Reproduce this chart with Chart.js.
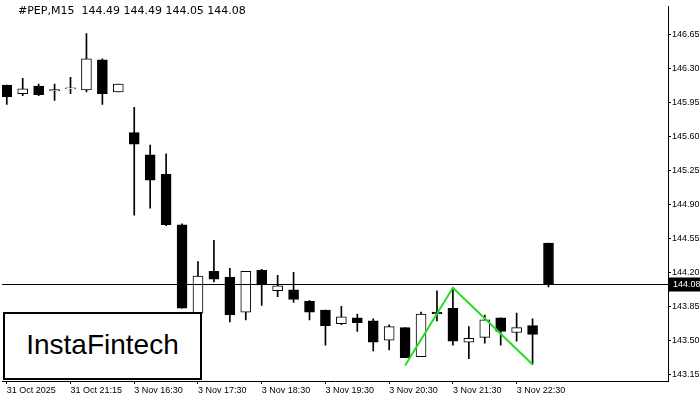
<!DOCTYPE html>
<html>
<head>
<meta charset="utf-8">
<script src="https://cdn.jsdelivr.net/npm/chart.js@4.4.1/dist/chart.umd.min.js"></script>
<style>
  body { margin: 0; background: #fff; }
  #wrap { position: relative; width: 700px; height: 400px; }
  #title { position: absolute; left: 18px; top: 4px; font: 11px "DejaVu Sans", sans-serif; color: #000; }
  #logo { position: absolute; left: 3px; top: 312px; width: 195px; height: 64px; border: 2px solid #000; background: #fff;
          font: 28px "Liberation Sans", Arial, sans-serif; line-height: 62px; text-align: center; color: #000; }
</style>
</head>
<body>
<div id="wrap">
  <canvas id="chart" width="700" height="400"></canvas>
  <div id="title">#PEP,M15&nbsp; 144.49 144.49 144.05 144.08</div>
  <div id="logo">InstaFintech</div>
</div>
<script>
const opens  = [146.13,146.04,146.12,146.07,146.09,146.08,146.39,146.06,145.64,145.41,145.21,144.69,143.78,144.21,144.15,143.79,144.22,144.01,144.02,143.90,143.81,143.67,143.73,143.70,143.50,143.63,143.33,143.79,143.83,143.48,143.53,143.73,143.58,143.65,144.50];
const highs  = [146.13,146.20,146.14,146.14,146.21,146.66,146.40,146.14,145.90,145.51,145.42,144.70,144.31,144.53,144.24,144.21,144.23,144.17,144.20,143.91,143.81,143.85,143.77,143.72,143.66,143.63,143.79,144.01,144.04,143.64,143.76,143.73,143.78,143.72,144.50];
const lows   = [145.93,146.02,146.02,145.97,146.04,146.06,145.93,146.06,144.79,144.86,144.68,143.83,143.77,144.10,143.69,143.71,143.86,143.95,143.89,143.71,143.45,143.66,143.59,143.39,143.40,143.32,143.33,143.70,143.45,143.31,143.47,143.45,143.49,143.25,144.05];
const closes = [146.01,146.09,146.03,146.08,146.09,146.40,146.04,146.14,145.52,145.15,144.69,143.83,144.16,144.13,143.76,144.21,144.07,144.06,143.92,143.79,143.65,143.74,143.68,143.48,143.64,143.32,143.77,143.77,143.49,143.52,143.71,143.59,143.63,143.56,144.08];
const timeLabels = {0: '31 Oct 2025', 4: '31 Oct 21:15', 8: '3 Nov 16:30', 12: '3 Nov 17:30', 16: '3 Nov 18:30',
                    20: '3 Nov 19:30', 24: '3 Nov 20:30', 28: '3 Nov 21:30', 32: '3 Nov 22:30'};
const priceTicks = [143.15,143.50,143.85,144.20,144.55,144.90,145.25,145.60,145.95,146.30,146.65];
const patternX = [25, 28, 33];
const patternY = [143.24, 144.04, 143.25];
const lastPrice = 144.08;

const wicks = opens.map((o, i) => ({x: i, y: [lows[i], highs[i]]}));
const bodies = opens.map((o, i) => {
  let lo = Math.min(o, closes[i]), hi = Math.max(o, closes[i]);
  if (hi - lo < 0.012) hi = lo + 0.012;
  return {x: i, y: [lo, hi]};
});
const bodyColors = opens.map((o, i) => closes[i] < o ? '#000' : '#fff');

const priceLine = {
  id: 'priceLine',
  afterDatasetsDraw(chart) {
    const {ctx, chartArea, scales} = chart;
    const y = Math.round(scales.y.getPixelForValue(lastPrice)) + 0.5;
    ctx.save();
    ctx.strokeStyle = '#000';
    ctx.lineWidth = 1;
    ctx.beginPath();
    ctx.moveTo(chartArea.left, y);
    ctx.lineTo(chartArea.right, y);
    ctx.stroke();
    ctx.fillStyle = '#000';
    ctx.fillRect(chartArea.right, y - 7, 700 - chartArea.right, 14);
    ctx.fillStyle = '#fff';
    ctx.font = '9px "Liberation Sans", sans-serif';
    ctx.textBaseline = 'middle';
    ctx.fillText(lastPrice.toFixed(2), chartArea.right + 5, y);
    ctx.restore();
  }
};

new Chart(document.getElementById('chart'), {
  data: {
    datasets: [
      {type: 'bar', data: wicks, backgroundColor: '#000', barThickness: 1, grouped: false, order: 3},
      {type: 'bar', data: bodies, backgroundColor: bodyColors, borderColor: '#000', borderWidth: 1,
       borderSkipped: false, barThickness: 10, grouped: false, order: 2},
      {type: 'line', data: patternX.map((x, i) => ({x: x, y: patternY[i]})), borderColor: '#22dd22',
       borderWidth: 2, pointRadius: 0, order: 1}
    ]
  },
  options: {
    responsive: false,
    animation: false,
    layout: {padding: {left: 2, top: 0, right: 0, bottom: 0}},
    plugins: {legend: {display: false}, tooltip: {enabled: false}},
    scales: {
      x: {
        type: 'linear', min: -0.3, max: 41.5, offset: false,
        afterBuildTicks: axis => { axis.ticks = Object.keys(timeLabels).map(k => ({value: +k})); },
        afterFit: axis => { axis.height = 19; },
        ticks: {callback: v => timeLabels[v] || '', color: '#000', font: {size: 9, family: 'Liberation Sans'},
                maxRotation: 0, align: 'start', autoSkip: false, padding: 1},
        grid: {drawOnChartArea: false, tickLength: 3, color: '#000', offset: false},
        border: {color: '#000'}
      },
      y: {
        position: 'right', min: 143.08, max: 146.94,
        afterBuildTicks: axis => { axis.ticks = priceTicks.map(v => ({value: v})); },
        afterFit: axis => { axis.width = 32; },
        ticks: {callback: v => v.toFixed(2), color: '#000', font: {size: 9, family: 'Liberation Sans'}, padding: 1},
        grid: {drawOnChartArea: false, tickLength: 3, color: '#000'},
        border: {color: '#000'}
      }
    }
  },
  plugins: [priceLine]
});
</script>
</body>
</html>
